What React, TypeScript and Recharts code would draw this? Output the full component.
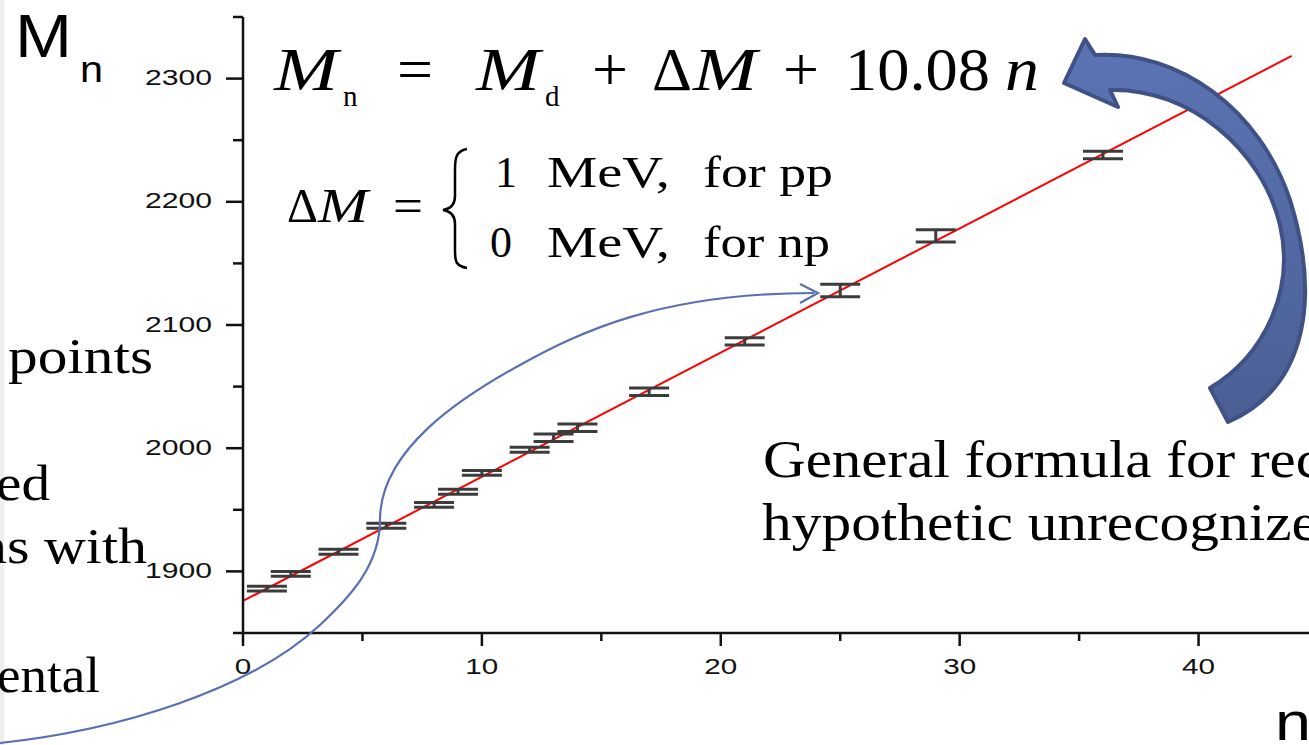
import React from 'react';
import { ComposedChart, Line, Scatter, ErrorBar, XAxis, YAxis } from 'recharts';

// measured mass points (n, M_n) with error
const nValues = [1, 2, 4, 6, 8, 9, 10, 12, 13, 14, 17, 21, 25, 29, 36];
const massValues = [1886, 1898, 1916, 1937, 1954, 1964.6, 1980, 1998.7, 2008.5, 2016.6, 2045.8, 2086.7, 2128, 2172.3, 2238];
const massErrors = [2, 2, 2, 2, 2, 2, 2, 2, 3, 3, 3, 3, 5, 5, 3];

// fitted line end points
const fitN = [0, 43.9];
const fitM = [1876, 2318.5];

const xTicks = [0, 5, 10, 15, 20, 25, 30, 35, 40, 45];
const yTicks = [1850, 1900, 1950, 2000, 2050, 2100, 2150, 2200, 2250, 2300, 2350];

const points = nValues.map((n, i) => ({ n, m: massValues[i], err: massErrors[i] }));
const fitLine = fitN.map((n, i) => ({ n, m: fitM[i] }));

const AXIS = '#111';
const SANS = '"Liberation Sans", Arial, sans-serif';
const SERIF = '"Liberation Serif", "Times New Roman", serif';

const XTick = (props: any) => {
  const { x, y, payload } = props;
  const v = payload.value;
  const major = v % 10 === 0;
  const label = String(v);
  return (
    <g>
      <line x1={x} x2={x} y1={y} y2={y + (major ? 13 : 8)} stroke={AXIS} strokeWidth={2.5} />
      {major && (
        <text x={x} y={y + 33} textAnchor="middle" dominantBaseline="central" fontSize={22}
          fontFamily={SANS} fill={AXIS} textLength={16.5 * label.length} lengthAdjust="spacingAndGlyphs">
          {label}
        </text>
      )}
    </g>
  );
};

const YTick = (props: any) => {
  const { x, y, payload } = props;
  const v = payload.value;
  const major = v % 100 === 0;
  return (
    <g>
      <line x1={x - (major ? 17 : 10)} x2={x} y1={y} y2={y} stroke={AXIS} strokeWidth={2.5} />
      {major && (
        <text x={x - 31} y={y - 1} textAnchor="end" dominantBaseline="central" fontSize={22}
          fontFamily={SANS} fill={AXIS} textLength={67} lengthAdjust="spacingAndGlyphs">
          {v}
        </text>
      )}
    </g>
  );
};

const Overlay = () => (
  <svg width={1309} height={745} style={{ position: 'absolute', left: 0, top: 0, pointerEvents: 'none' }}>
    <defs>
      <linearGradient id="arrowFill" x1="0" y1="0" x2="0" y2="1">
        <stop offset="0%" stopColor="#5b74b4" />
        <stop offset="100%" stopColor="#4b5f94" />
      </linearGradient>
    </defs>
    <rect x={0} y={0} width={4} height={745} fill="#eeeeee" />

    {/* axis titles */}
    <text x={15} y={57} fontSize={61} fontFamily={SANS} fill="#000" textLength={57} lengthAdjust="spacingAndGlyphs">M</text>
    <text x={80} y={82} fontSize={37} fontFamily={SANS} fill="#000" textLength={23} lengthAdjust="spacingAndGlyphs">n</text>
    <text x={1275} y={740} fontSize={54} fontFamily={SANS} fill="#000" textLength={36} lengthAdjust="spacingAndGlyphs">n</text>

    {/* main formula */}
    <g fontFamily={SERIF} fill="#000">
      <text x={274} y={90} fontSize={62} fontStyle="italic" textLength={64} lengthAdjust="spacingAndGlyphs">M</text>
      <text x={343} y={106} fontSize={29}>n</text>
      <text x={397} y={90} fontSize={62} textLength={36} lengthAdjust="spacingAndGlyphs">=</text>
      <text x={476} y={90} fontSize={62} fontStyle="italic" textLength={64} lengthAdjust="spacingAndGlyphs">M</text>
      <text x={545} y={106} fontSize={29}>d</text>
      <text x={592} y={90} fontSize={62} textLength={36} lengthAdjust="spacingAndGlyphs">+</text>
      <text x={652} y={90} fontSize={62} textLength={40} lengthAdjust="spacingAndGlyphs">Δ</text>
      <text x={693} y={90} fontSize={62} fontStyle="italic" textLength={64} lengthAdjust="spacingAndGlyphs">M</text>
      <text x={783} y={90} fontSize={62} textLength={36} lengthAdjust="spacingAndGlyphs">+</text>
      <text x={845} y={90} fontSize={62} textLength={145} lengthAdjust="spacingAndGlyphs">10.08</text>
      <text x={1005} y={90} fontSize={62} fontStyle="italic" textLength={34} lengthAdjust="spacingAndGlyphs">n</text>

      <text x={287} y={222} fontSize={48} textLength={31} lengthAdjust="spacingAndGlyphs">Δ</text>
      <text x={318} y={222} fontSize={48} fontStyle="italic" textLength={50} lengthAdjust="spacingAndGlyphs">M</text>
      <text x={393} y={222} fontSize={48} textLength={30} lengthAdjust="spacingAndGlyphs">=</text>
      <path d="M467,149 C456,151 455,158 455,170 L455,196 C455,205 450,209 443,210 C450,211 455,215 455,224 L455,250 C455,262 456,266 467,268"
        fill="none" stroke="#000" strokeWidth={2.5} />
      <text x={495} y={187} fontSize={44}>1</text>
      <text x={547} y={187} fontSize={44} textLength={123} lengthAdjust="spacingAndGlyphs">MeV,</text>
      <text x={703} y={187} fontSize={44} textLength={130} lengthAdjust="spacingAndGlyphs">for pp</text>
      <text x={490} y={257} fontSize={44}>0</text>
      <text x={547} y={257} fontSize={44} textLength={123} lengthAdjust="spacingAndGlyphs">MeV,</text>
      <text x={703} y={257} fontSize={44} textLength={127} lengthAdjust="spacingAndGlyphs">for np</text>
    </g>

    {/* side texts */}
    <g fontFamily={SERIF} fill="#000" fontSize={50}>
      <text x={8} y={373} textLength={145} lengthAdjust="spacingAndGlyphs">points</text>
      <text x={-4} y={500} textLength={54} lengthAdjust="spacingAndGlyphs">ed</text>
      <text x={-22} y={563} textLength={169} lengthAdjust="spacingAndGlyphs">ns with</text>
      <text x={-3} y={692} textLength={103} lengthAdjust="spacingAndGlyphs">ental</text>
      <text x={763} y={477} fontSize={52} textLength={559} lengthAdjust="spacingAndGlyphs">General formula for rec</text>
      <text x={762} y={540} fontSize={52} textLength={556} lengthAdjust="spacingAndGlyphs">hypothetic unrecognize</text>
    </g>

    {/* thin connector */}
    <path d="M0,743 C120,730 250,690 320,625 C350,597 380,565 380,520 C380,450 460,398 520,365 C580,332 660,293 814,293"
      fill="none" stroke="#5a6fb2" strokeWidth={2.2} />
    <path d="M800,284 L818,293 L800,303" fill="none" stroke="#5a6fb2" strokeWidth={2.2} />

    {/* big curved arrow */}
    <path d="M1095,55 C1180,50 1260,110 1290,200 C1318,290 1312,385 1228,422 L1210,388 C1265,355 1295,290 1280,225 C1262,150 1190,88 1110,90 L1118,107 L1064,83 L1085,39 Z"
      fill="url(#arrowFill)" stroke="#3f5185" strokeWidth={4} strokeLinejoin="round" />
  </svg>
);

const App = () => {
  return (
    <div style={{ position: 'absolute', left: 0, top: 0, width: 1309, height: 745, overflow: 'hidden', background: '#fff' }}>
      <ComposedChart width={1318} height={745} margin={{ top: 17, right: 0, bottom: 52, left: 143 }}>
        <XAxis type="number" dataKey="n" domain={[0, 45]} ticks={xTicks} interval={0} allowDataOverflow
          height={60} tickLine={false} tickSize={0} tickMargin={0}
          axisLine={{ stroke: AXIS, strokeWidth: 2.5 }} tick={(p: any) => <XTick {...p} />} />
        <YAxis type="number" dataKey="m" domain={[1850, 2350]} ticks={yTicks} interval={0} allowDataOverflow
          width={100} tickLine={false} tickSize={0} tickMargin={0}
          axisLine={{ stroke: AXIS, strokeWidth: 2.5 }} tick={(p: any) => <YTick {...p} />} />
        <Line data={fitLine} dataKey="m" type="linear" stroke="#ff0000" strokeWidth={2} dot={false}
          isAnimationActive={false} />
        <Scatter data={points} dataKey="m" shape={() => <g />} isAnimationActive={false}>
          <ErrorBar dataKey="err" direction="y" width={20} stroke="#3c3c3c" strokeWidth={3} />
        </Scatter>
      </ComposedChart>
      <Overlay />
    </div>
  );
};

export default App;
